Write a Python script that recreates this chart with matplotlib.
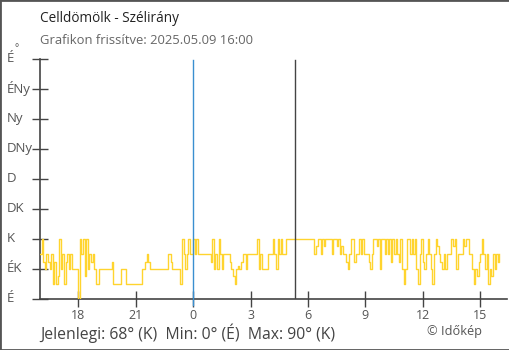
import matplotlib
matplotlib.use("Agg")
import matplotlib.pyplot as plt
from matplotlib.patches import Rectangle
import matplotlib.transforms as mtransforms
import numpy as np

plt.rcParams['font.family'] = ['Open Sans', 'DejaVu Sans']

# hours since 2025-05-08 00:00, 5-minute samples from 16:00 to 16:00 next day
start_hour = 16
step_minutes = 5
directions = [
    68, 90, 56, 45, 68, 56, 45, 68, 22, 56, 22, 34,
    90, 45, 68, 22, 56, 68, 45, 68, 45, 45, 45, 45,
    0, 90, 68, 90, 34, 90, 45, 68, 56, 68, 45, 22,
    22, 45, 45, 45, 45, 45, 45, 45, 45, 56, 22, 22,
    22, 22, 22, 45, 45, 45, 22, 22, 22, 22, 22, 22,
    22, 22, 22, 22, 45, 45, 56, 68, 56, 45, 45, 45,
    45, 45, 45, 45, 45, 45, 45, 45, 68, 68, 56, 45,
    45, 45, 45, 45, 22, 90, 68, 45, 68, 90, 68, 68,
    90, 68, 90, 68, 68, 68, 68, 68, 68, 68, 68, 56,
    90, 45, 68, 45, 90, 68, 45, 68, 68, 68, 68, 56,
    45, 34, 22, 45, 50, 45, 56, 68, 68, 45, 68, 68,
    68, 68, 68, 68, 90, 45, 68, 45, 45, 45, 45, 68,
    68, 68, 90, 68, 45, 90, 68, 90, 68, 68, 90, 90,
    90, 90, 90, 90, 90, 90, 90, 90, 90, 90, 90, 90,
    90, 90, 90, 90, 68, 79, 90, 90, 68, 90, 79, 90,
    90, 90, 90, 68, 90, 90, 79, 90, 68, 79, 68, 68,
    56, 45, 68, 90, 90, 56, 68, 68, 90, 68, 90, 68,
    68, 68, 56, 45, 68, 90, 90, 79, 90, 45, 90, 90,
    68, 90, 68, 90, 56, 90, 68, 90, 68, 56, 90, 45,
    22, 45, 90, 90, 68, 90, 68, 90, 45, 22, 68, 90,
    56, 45, 68, 90, 68, 45, 22, 68, 90, 79, 68, 56,
    45, 68, 45, 68, 68, 68, 90, 79, 90, 45, 68, 68,
    68, 90, 79, 90, 90, 68, 68, 45, 22, 45, 34, 56,
    68, 90, 68, 45, 68, 22, 45, 34, 68, 45, 68, 56,
    68,
]
hours = [start_hour + i * step_minutes / 60 for i in range(len(directions))]

tick_hours = [18, 21, 24, 27, 30, 33, 36, 39]
tick_labels = ['18', '21', '0', '3', '6', '9', '12', '15']
dir_ticks = [0, 45, 90, 135, 180, 225, 270, 315, 360]
dir_labels = ['É', 'ÉK', 'K', 'DK', 'D', 'DNy', 'Ny', 'ÉNy', 'É']
midnight = 24
sunrise = 29.32

W, H = 510, 350
fig = plt.figure(figsize=(W / 100, H / 100), dpi=100)
fig.patch.set_facecolor('white')
fig.patches.append(Rectangle((0, 0), 1, 1, transform=fig.transFigure,
                             fill=False, edgecolor='#555555', linewidth=2))

ax = fig.add_axes([40 / W, (H - 299) / H, (507 - 40) / W, 240 / H])
ax.set_xlim(16, 40.4)
ax.set_ylim(0, 360)

ax.plot(hours, directions, drawstyle='steps-post', color='#FFD42E', lw=1.0, zorder=3)

ax.axvline(midnight, ymin=-0.025, ymax=0.996, color='#3A8FD0', lw=1.0,
           clip_on=False, zorder=4)
ax.axvline(sunrise, ymin=0, ymax=0.996, color='#444444', lw=1.0, zorder=4)

for s in ['top', 'right']:
    ax.spines[s].set_visible(False)
for s in ['left', 'bottom']:
    ax.spines[s].set_color('#444444')
    ax.spines[s].set_linewidth(1.2)

ax.set_xticks(tick_hours)
ax.set_xticklabels(tick_labels)
ax.set_yticks(dir_ticks)
ax.set_yticklabels([])
ax.tick_params(axis='both', direction='inout', length=12, width=1.0, color='#444444')
ax.tick_params(axis='x', labelsize=9, labelcolor='#555555', pad=1)

trans = mtransforms.blended_transform_factory(fig.transFigure, ax.transData)
for v, lab in zip(dir_ticks, dir_labels):
    ax.text(7 / W, v, lab, transform=trans, ha='left', va='center',
            fontsize=9.5, color='#555555')
fig.text(17 / W, 1 - 49 / H, '°', ha='center', va='center', fontsize=7, color='#555555')

fig.text(40 / W, 1 - 19 / H, 'Celldömölk - Szélirány', ha='left', va='center',
         fontsize=9.8, color='#222222')
fig.text(40 / W, 1 - 41 / H, 'Grafikon frissítve: 2025.05.09 16:00', ha='left',
         va='center', fontsize=9.4, color='#666666')
fig.text(40 / W, 1 - 333 / H, 'Jelenlegi: 68° (K)  Min: 0° (É)  Max: 90° (K)',
         ha='left', va='center', fontsize=11.3, color='#444444')
fig.text(482 / W, 1 - 331 / H, '© Időkép', ha='right', va='center',
         fontsize=9.2, color='#555555')

fig.savefig('out.png', dpi=100)
